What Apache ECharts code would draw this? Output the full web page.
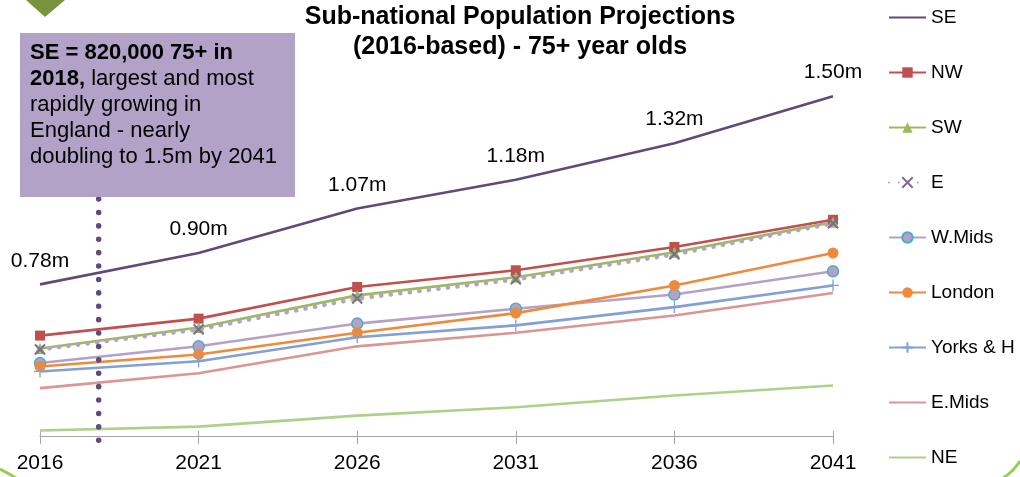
<!DOCTYPE html>
<html><head><meta charset="utf-8">
<script src="https://cdn.jsdelivr.net/npm/echarts/dist/echarts.min.js"></script>
<style>html,body{margin:0;padding:0;background:#fff}#c{width:1020px;height:477px}</style>
</head><body><div id="c"></div>
<script>
const years = ['2016','2021','2026','2031','2036','2041'];
const SE = [0.78,0.90,1.07,1.18,1.32,1.50];
const NW = [0.584,0.649,0.770,0.834,0.923,1.027];
const SW = [0.535,0.615,0.738,0.807,0.903,1.018];
const E = [0.531,0.608,0.726,0.799,0.895,1.014];
const WMids = [0.479,0.543,0.630,0.687,0.741,0.830];
const London = [0.466,0.512,0.595,0.670,0.776,0.900];
const Yorks = [0.447,0.486,0.578,0.623,0.693,0.776];
const EMids = [0.383,0.440,0.543,0.595,0.661,0.747];
const NE = [0.221,0.236,0.278,0.310,0.355,0.393];
const titleText = 'Sub-national Population Projections\n(2016-based) - 75+ year olds';
const noteBold1 = 'SE = 820,000 75+ in';
const noteBold2 = '2018,';
const noteRest = [' largest and most', 'rapidly growing in', 'England - nearly', 'doubling to 1.5m by 2041'];

const FF = "'Liberation Sans', Arial, sans-serif";
const chart = echarts.init(document.getElementById('c'));

function ln(name, data, color, extra) {
  return Object.assign({
    name, type: 'line', data,
    lineStyle: { color, width: 2.6 },
    itemStyle: { color },
    symbolSize: 10,
    animation: false
  }, extra || {});
}
const hidden = { symbol: 'circle', symbolSize: 2, itemStyle: { color: 'rgba(0,0,0,0)' } };

const series = [
  ln('SE', SE, '#604a7b', Object.assign({}, hidden, {
    label: { show: true, position: 'top', distance: 12, fontSize: 21, fontFamily: FF, color: '#000',
      formatter: p => p.value.toFixed(2) + 'm' },
    z: 10
  })),
  ln('NW', NW, '#c0504d', { symbol: 'rect', symbolSize: 10 }),
  ln('SW', SW, '#9bbb59', { symbol: 'triangle', symbolSize: 11 }),
  ln('E', E, '#b3a2c7', {
    symbol: 'path://M0,0L10,10M10,0L0,10', symbolSize: 10,
    lineStyle: { color: '#b3a2c7', width: 4.6, type: [0.1, 9.5], cap: 'round' },
    itemStyle: { color: '#7d6a9a', borderColor: '#7d6a9a', borderWidth: 2 }
  }),
  ln('W.Mids', WMids, '#b3a2c7', { symbol: 'circle', symbolSize: 11,
    itemStyle: { color: '#b3a2c7', borderColor: '#4bacc6', borderWidth: 1.5 } }),
  ln('London', London, '#ef8a3c', { symbol: 'circle', symbolSize: 11 }),
  ln('Yorks & H', Yorks, '#829fd6', { symbol: 'path://M5,0L5,10M0,5L10,5', symbolSize: 12,
    itemStyle: { color: '#829fd6', borderColor: '#829fd6', borderWidth: 1.3 } }),
  ln('E.Mids', EMids, '#d99694', Object.assign({}, hidden)),
  ln('NE', NE, '#add08a', Object.assign({}, hidden))
];

const option = {
  backgroundColor: '#fff',
  animation: false,
  grid: { left: 40, right: 187, top: 70, bottom: 41, containLabel: false },
  xAxis: [{
    type: 'category', data: years, boundaryGap: false, position: 'bottom',
    axisLine: { lineStyle: { color: '#a6a6a6', width: 1.2 } },
    axisTick: { show: true, length: 8, lineStyle: { color: '#a6a6a6' } },
    axisLabel: { fontSize: 21, fontFamily: FF, color: '#000', margin: 17 },
    splitLine: { show: false }
  }, {
    type: 'category', data: years, boundaryGap: false, position: 'bottom', offset: 0,
    axisLine: { show: false },
    axisTick: { show: true, inside: true, length: 5, lineStyle: { color: '#a6a6a6' } },
    axisLabel: { show: false }, splitLine: { show: false }
  }],
  yAxis: { type: 'value', min: 0.2, max: 1.6, show: false, splitLine: { show: false } },
  legend: {
    orient: 'vertical', left: 888, top: 8, padding: 0,
    itemWidth: 37, itemHeight: 13, itemGap: 36,
    textStyle: { fontSize: 19, fontFamily: FF, color: '#000' },
    data: series.map(s => s.name)
  },
  series,
  graphic: [
    { type: 'polygon', shape: { points: [[26, 0], [65, 0], [45, 17]] }, style: { fill: '#77933c' } },
    { type: 'bezierCurve', shape: { x1: 0, y1: 469, x2: 16, y2: 478, cpx1: 6, cpy1: 472 },
      style: { stroke: '#92d050', lineWidth: 3, fill: 'none' } },
    { type: 'bezierCurve', shape: { x1: 1003, y1: 478, x2: 1020, y2: 461, cpx1: 1013, cpy1: 472 },
      style: { stroke: '#92d050', lineWidth: 3, fill: 'none' } },
    { type: 'text', x: 520, y: 32, style: {
      text: titleText, textAlign: 'center', textVerticalAlign: 'middle',
      fontSize: 25, fontWeight: 'bold', fontFamily: FF, fill: '#000', lineHeight: 30 } },
    { type: 'rect', shape: { x: 20, y: 33, width: 275, height: 164 }, style: { fill: '#b3a2c7' }, z: 5 },
    { type: 'text', x: 30, y: 40, z: 6, style: {
      text: '{b|' + noteBold1 + '}\n{b|' + noteBold2 + '}{n|' + noteRest[0] + '}\n{n|' + noteRest[1] + '}\n{n|' + noteRest[2] + '}\n{n|' + noteRest[3] + '}',
      textVerticalAlign: 'top',
      rich: {
        b: { fontSize: 22, fontWeight: 'bold', fontFamily: FF, fill: '#000', lineHeight: 26 },
        n: { fontSize: 22, fontFamily: FF, fill: '#000', lineHeight: 26 }
      } } }
  ]
};
chart.setOption(option);

const x0 = chart.convertToPixel({ xAxisIndex: 0 }, 0);
const x1 = chart.convertToPixel({ xAxisIndex: 0 }, 1);
const xd = x0 + 0.37 * (x1 - x0);
const yBottom = chart.convertToPixel({ yAxisIndex: 0 }, 0.2) + 9;
const g = option.graphic.slice();
g.push({ type: 'line', z: 4, shape: { x1: xd, y1: 199, x2: xd, y2: yBottom },
  style: { stroke: '#604a7b', lineWidth: 5.5, lineDash: [0.1, 13.3], lineCap: 'round' } });
chart.setOption({ graphic: g }, { replaceMerge: ['graphic'] });
</script></body></html>
